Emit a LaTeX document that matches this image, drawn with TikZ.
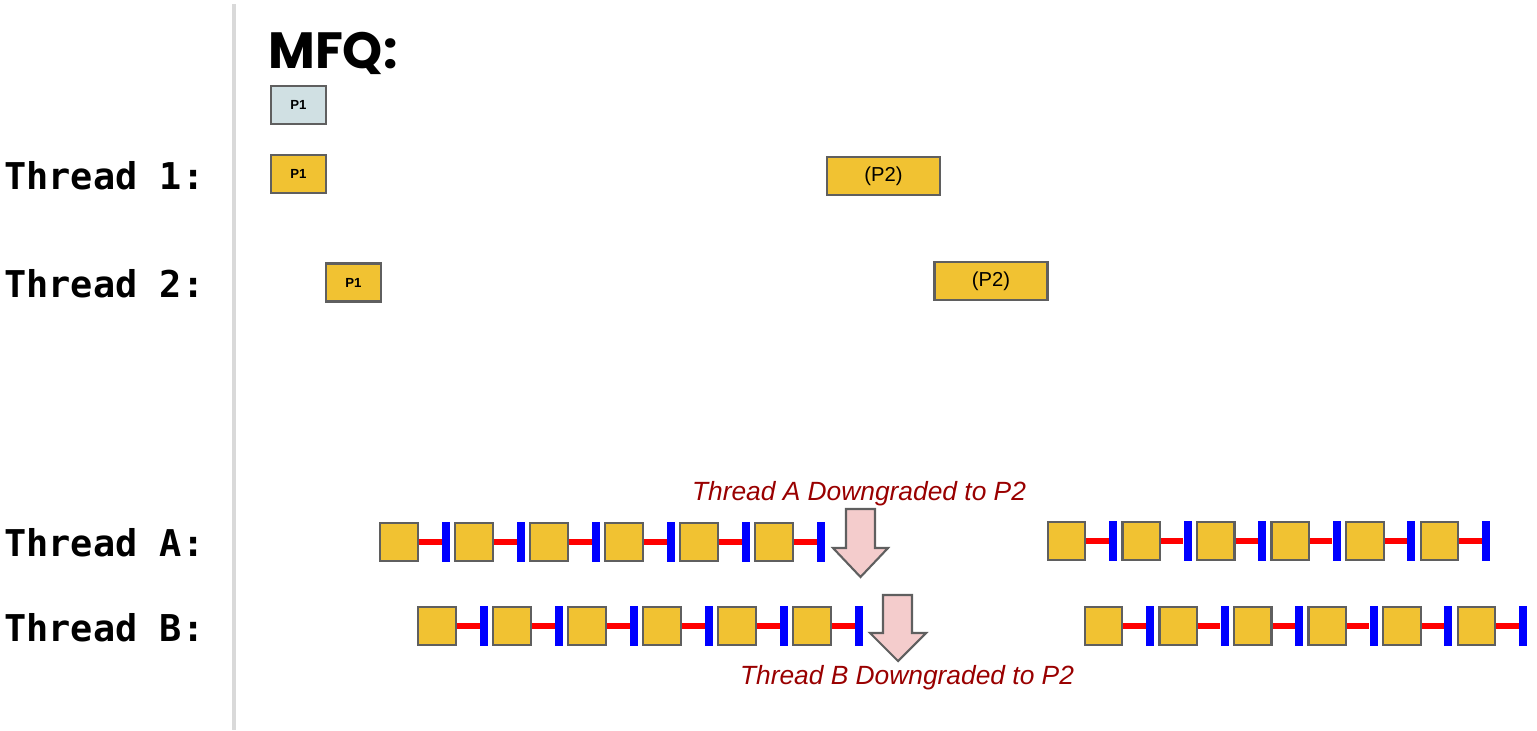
\documentclass[tikz,border=0pt]{standalone}
\usepackage{fontspec}
\setmainfont{Liberation Sans}
\newfontfamily\labelfont{DejaVu Sans Mono}
\newfontfamily\titlefont{Poppins}
\usetikzlibrary{positioning}
\definecolor{procyellow}{HTML}{F1C232}
\definecolor{queueblue}{HTML}{D0E0E3}
\definecolor{edgegray}{HTML}{5F5F5F}
\definecolor{notered}{HTML}{990000}
\definecolor{arrowpink}{HTML}{F4CCCC}
\definecolor{rulegray}{HTML}{D9D9D9}

\begin{document}
\begin{tikzpicture}[
    x=0.02cm, y=-0.02cm,
    proc/.style={draw=edgegray, line width=1.3pt, fill=procyellow, minimum width=1.1cm, minimum height=0.76cm, inner sep=0pt, font=\bfseries\fontsize{7.5}{9}\selectfont},
    wideproc/.style={proc, minimum width=2.26cm, font=\fontsize{11.5}{13}\selectfont},
    slice/.style={draw=edgegray, line width=1.3pt, fill=procyellow, minimum width=0.75cm, minimum height=0.76cm, inner sep=0pt},
    tick/.style={fill=blue, minimum width=0.16cm, minimum height=0.8cm, inner sep=0pt},
    link/.style={red, line width=3.6pt},
    rowlabel/.style={anchor=base west, inner sep=0pt, font=\labelfont\bfseries\fontsize{21}{24}\selectfont},
    note/.style={inner sep=0pt, text=notered, font=\itshape\fontsize{15}{17}\selectfont},
    downarrow/.style={draw=edgegray, line width=1.2pt, fill=arrowpink, line join=miter}
]
\useasboundingbox (0,0) rectangle (1537,730);

\draw[rulegray, line width=1.8pt] (234,4) -- (234,730);

\node[anchor=base west, inner sep=0pt, font=\titlefont\bfseries\fontsize{29}{32}\selectfont] (title) at (268,68) {MFQ:};

\node[rowlabel] (t1) at (4,189) {Thread 1:};
\node[rowlabel] (t2) at (4,297) {Thread 2:};
\node[rowlabel] (ta) at (4,556) {Thread A:};
\node[rowlabel] (tb) at (4,641) {Thread B:};

\node[proc, fill=queueblue] (q1) at (298.5,105) {P1};
\node[proc] (t1p1) at (298.5,174) {P1};
\node[wideproc] (t1p2) at (883.5,176) {(P2)};
\node[proc] (t2p1) at (353.5,282.5) {P1};
\node[wideproc] (t2p2) at (991,281) {(P2)};

\foreach \name/\sx/\bx/\gap/\ry in {aa/399/446/75/542, ab/1066.5/1113/74.6/541, ba/437/484/75/626, bb/1103.5/1150/74.6/626}
  \foreach \k in {0,...,5} {
    \node[slice] (\name-\k) at ({\sx+\k*\gap},\ry) {};
    \node[tick] (\name t-\k) at ({\bx+\k*\gap},\ry) {};
    \draw[link] (\name-\k.east) -- (\name t-\k.west);
  }

\draw[downarrow] (846,509) -- (875,509) -- (875,548) -- (888,548) -- (860.5,577) -- (833,548) -- (846,548) -- cycle;
\draw[downarrow] (883,595) -- (912,595) -- (912,633) -- (926,633) -- (898,661) -- (870,633) -- (883,633) -- cycle;

\node[note] (downa) at (859,494) {Thread A Downgraded to P2};
\node[note] (downb) at (907,678) {Thread B Downgraded to P2};
\end{tikzpicture}
\end{document}
